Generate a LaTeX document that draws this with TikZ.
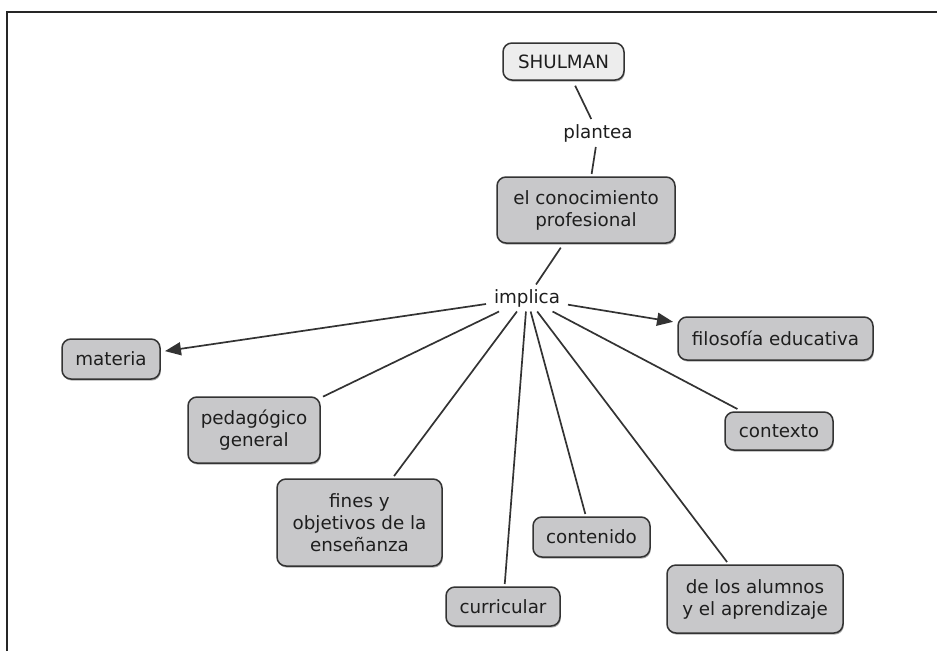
\documentclass[tikz,border=0pt]{standalone}
\usepackage{fontspec}
\setmainfont{DejaVu Sans}
\usetikzlibrary{arrows.meta,shadows}
\definecolor{boxfill}{HTML}{C8C8CA}
\definecolor{topfill}{HTML}{EDEDED}
\definecolor{edgecol}{HTML}{333333}
\definecolor{txtcol}{HTML}{1E1E1E}
\tikzset{
  concept/.style={draw=edgecol, line width=1.5pt, rounded corners=9pt, fill=boxfill,
    text=txtcol, align=center, inner sep=0pt, outer sep=3pt,
    drop shadow={shadow xshift=0.8pt, shadow yshift=-1.6pt, fill=black!55, opacity=0.6},
    font=\fontsize{18.3}{22}\selectfont},
  linkph/.style={text=txtcol, inner sep=0pt, outer sep=0pt,
    font=\fontsize{18.3}{22}\selectfont},
  conn/.style={draw=edgecol, line width=1.7pt},
  arr/.style={conn, -{Triangle[length=16pt,width=13pt]}, shorten >=2pt},
}
\begin{document}
\begin{tikzpicture}[x=1pt,y=-1pt]
\useasboundingbox (0,0) rectangle (937,651);
\draw[line width=1.2pt, black!85] (7,651) -- (7,12) -- (937,12);

\node[concept, fill=topfill, minimum width=121pt, minimum height=37pt] (shulman) at (563.5,61.5) {SHULMAN};
\node[linkph, minimum width=80pt, minimum height=28pt] (plantea) at (598,133) {plantea};
\node[concept, minimum width=178pt, minimum height=66pt] (conoc) at (586,210) {el conocimiento\\profesional};
\node[linkph, minimum width=82pt, minimum height=27pt] (implica) at (527,298) {implica};

\node[concept, minimum width=98pt, minimum height=40pt] (materia) at (111,359) {materia};
\node[concept, minimum width=132pt, minimum height=66pt] (pedag) at (254,430) {pedagógico\\general};
\node[concept, minimum width=195pt, minimum height=43pt] (filo) at (775.5,338.5) {filosofía educativa};
\node[concept, minimum width=108pt, minimum height=38pt] (contexto) at (779,431) {contexto};
\node[concept, minimum width=165pt, minimum height=87pt] (fines) at (359.5,522.5) {fines y\\objetivos de la\\enseñanza};
\node[concept, minimum width=117pt, minimum height=40pt] (contenido) at (591.5,537) {contenido};
\node[concept, minimum width=114pt, minimum height=39pt] (curric) at (503,606.5) {curricular};
\node[concept, minimum width=176pt, minimum height=68pt] (alumnos) at (755,599) {de los alumnos\\y el aprendizaje};

\draw[conn, shorten <=3pt] (shulman) -- (plantea);
\draw[conn] (plantea) -- (conoc);
\draw[conn, shorten <=2pt] (conoc) -- (implica);
\draw[arr] (implica) -- (materia);
\draw[arr] (implica) -- (filo);
\draw[conn] (implica) -- (pedag);
\draw[conn] (implica) -- (fines);
\draw[conn] (implica) -- (curric);
\draw[conn] (implica) -- (contenido);
\draw[conn] (implica) -- (alumnos);
\draw[conn] (implica) -- (contexto);
\end{tikzpicture}
\end{document}
